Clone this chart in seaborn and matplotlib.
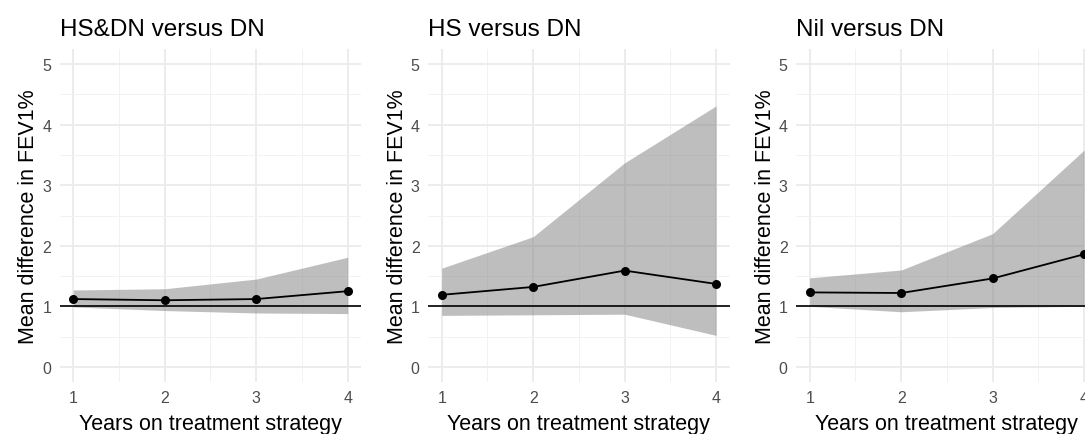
import matplotlib
matplotlib.use("Agg")
import matplotlib.pyplot as plt
import seaborn as sns
import pandas as pd

# Data
years = [1, 2, 3, 4]
titles = ["HS&DN versus DN", "HS versus DN", "Nil versus DN"]
mean_diff = [
    [1.12, 1.10, 1.12, 1.25],
    [1.19, 1.32, 1.59, 1.37],
    [1.23, 1.22, 1.46, 1.86],
]
upper_ci = [
    [1.27, 1.29, 1.45, 1.81],
    [1.63, 2.15, 3.37, 4.31],
    [1.47, 1.60, 2.20, 3.58],
]
lower_ci = [
    [0.99, 0.93, 0.89, 0.88],
    [0.85, 0.86, 0.87, 0.52],
    [1.00, 0.91, 0.98, 1.00],
]

sns.set_theme(style="whitegrid")
plt.rcParams["font.family"] = ["Liberation Sans", "DejaVu Sans"]

W, H = 1085, 435
fig = plt.figure(figsize=(W / 100, H / 100), dpi=100)

lefts = [59.6, 428.0, 796.0]
pw = 301.8
top, bottom = 50.0, 383.0

for i in range(3):
    ax = fig.add_axes([lefts[i] / W, 1 - bottom / H, pw / W, (bottom - top) / H])
    df = pd.DataFrame({"Year": years, "Mean": mean_diff[i],
                       "Lo": lower_ci[i], "Hi": upper_ci[i]})

    ax.fill_between(df["Year"], df["Lo"], df["Hi"], color="#7f7f7f",
                    alpha=0.5, linewidth=0, zorder=2)
    ax.axhline(1, color="black", linewidth=1.2, zorder=3)
    sns.lineplot(data=df, x="Year", y="Mean", ax=ax, color="black",
                 linewidth=1.3, marker="o", markersize=6.5,
                 markeredgewidth=0, zorder=4)

    ax.set_xlim(0.85, 4.15)
    ax.set_ylim(-0.25, 5.25)
    ax.set_xticks(years)
    ax.set_xticks([1.5, 2.5, 3.5], minor=True)
    ax.set_yticks([0, 1, 2, 3, 4, 5])
    ax.set_yticks([0.5, 1.5, 2.5, 3.5, 4.5], minor=True)
    ax.grid(which="major", color="#EBEBEB", linewidth=1.3)
    ax.grid(which="minor", color="#F2F2F2", linewidth=0.7)
    ax.set_axisbelow(True)
    for s in ax.spines.values():
        s.set_visible(False)
    ax.set_facecolor("white")
    ax.tick_params(axis="both", which="both", length=0, labelsize=11.5,
                   labelcolor="#4D4D4D")
    ax.tick_params(axis="x", pad=6)
    ax.tick_params(axis="y", pad=6)

    ax.set_xlabel("Years on treatment strategy", fontsize=15.5, labelpad=5.5,
                  color="black")
    ax.set_ylabel("Mean difference in FEV1%", fontsize=15.5, labelpad=2,
                  color="black")
    ax.set_title(titles[i], fontsize=17.5, loc="left", pad=10, color="black")

fig.savefig("out.png", dpi=100)
